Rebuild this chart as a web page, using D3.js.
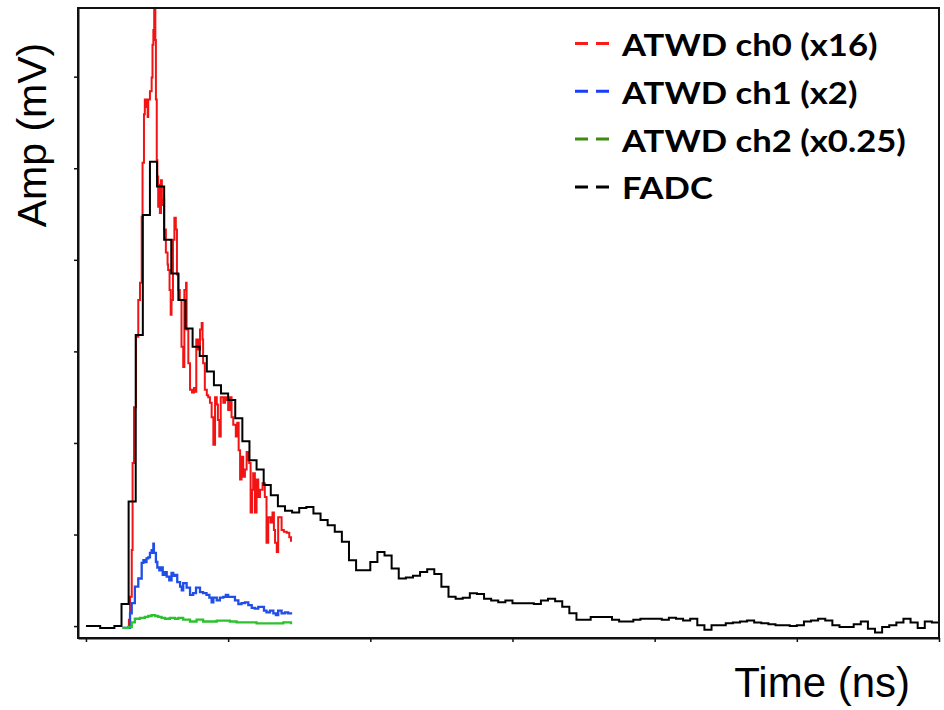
<!DOCTYPE html>
<html>
<head>
<meta charset="utf-8">
<script src="https://cdn.jsdelivr.net/npm/d3@7"></script>
<style>
  html, body { margin: 0; padding: 0; background: #fff; }
  svg { display: block; }
</style>
</head>
<body>
<svg id="chart" width="944" height="710"></svg>
<script>
// tick positions (no labels are printed on the axes)
const timeTicks = [0, 500, 1000, 1500, 2000, 2500, 3000];
const ampTicks = [0, 100, 200, 300, 400, 500, 600];

// FADC: one value per 25 ns bin, starting at t = 0
const fadcBin = 25;
const fadcAmp = [
  0, 0, -2, -2, 0, 24, 136, 318, 449, 507,
  480, 422, 385, 356, 325, 305, 295, 278, 263, 254,
  247, 227, 202, 181, 171, 154, 143, 131, 126, 124,
  129, 130, 123, 116, 110, 103, 92, 72, 61, 61,
  70, 81, 77, 63, 52, 53, 55, 59, 62, 57,
  43, 32, 30, 31, 36, 35, 30, 28, 26, 28,
  25, 25, 25, 24, 28, 30, 27, 21, 14, 7,
  7, 10, 10, 10, 7, 5, 5, 7, 8, 8,
  8, 7, 9, 8, 6, 8, 1, -4, 1, 1,
  3, 4, 5, 6, 4, 3, 2, 1, 1, 0,
  1, 5, 6, 8, 6, 1, -1, -1, 2, 5,
  -3, -7, -1, 1, 4, 8, 4, -2, 5, 4
];

// ATWD channels, [time ns, amplitude mV]
const atwdCh0 = [
  [129, -2], [147, -2], [151, 7], [155, 32], [161, 83], [164, 178], [169, 239],
  [176, 316], [184, 356], [190, 375], [196, 447], [199, 506], [204, 559], [207, 575],
  [213, 567], [217, 556], [219, 575], [225, 584], [231, 599], [234, 635], [237, 651],
  [240, 673], [244, 640], [246, 575], [249, 509], [251, 491], [254, 458], [258, 482],
  [260, 451], [264, 487], [267, 460], [272, 466], [275, 433], [281, 408], [287, 395],
  [289, 389], [294, 367], [298, 340], [301, 356], [306, 422], [311, 446], [316, 433],
  [320, 384], [325, 367], [330, 356], [336, 305], [342, 283], [346, 367], [352, 375],
  [354, 324], [360, 287], [366, 258], [373, 255], [380, 260], [383, 256], [388, 313],
  [395, 302], [401, 324], [407, 331], [410, 313], [412, 287], [418, 258], [425, 252],
  [430, 250], [436, 244], [442, 228], [448, 198], [454, 250], [460, 242], [464, 225],
  [469, 207], [474, 250], [483, 244], [489, 250], [495, 247], [500, 236], [506, 250],
  [512, 228], [518, 220], [527, 207], [532, 222], [537, 192], [542, 160], [547, 185],
  [553, 163], [559, 171], [565, 190], [570, 181], [574, 178], [579, 124], [584, 149],
  [588, 167], [594, 124], [600, 160], [606, 141], [612, 149], [621, 156], [629, 141],
  [635, 91], [641, 119], [649, 113], [656, 124], [661, 105], [665, 91], [671, 81],
  [676, 119], [682, 119], [688, 105], [696, 103], [706, 102], [715, 97], [721, 92]
];

const atwdCh1 = [
  [129, -2], [147, -2], [155, 14], [161, 25], [172, 43], [184, 52], [196, 69],
  [202, 72], [207, 70], [213, 74], [219, 75], [225, 80], [231, 83], [237, 90],
  [239, 80], [246, 70], [251, 64], [258, 61], [263, 64], [270, 56], [278, 59],
  [284, 54], [293, 50], [301, 58], [307, 55], [313, 56], [321, 48], [331, 43],
  [337, 39], [342, 47], [348, 47], [354, 42], [366, 34], [377, 36], [387, 42],
  [395, 42], [401, 37], [412, 36], [424, 34], [434, 31], [442, 26], [448, 31],
  [460, 28], [471, 31], [483, 32], [492, 34], [500, 32], [512, 32], [524, 28],
  [536, 24], [547, 25], [559, 26], [571, 23], [583, 20], [594, 19], [606, 21],
  [618, 21], [626, 17], [635, 15], [647, 17], [659, 14], [668, 12], [676, 17],
  [688, 14], [700, 15], [711, 14], [721, 15]
];

const atwdCh2 = [
  [129, -2], [149, -1], [161, 4], [172, 8], [190, 9], [207, 10], [219, 11],
  [231, 12], [243, 11], [254, 10], [266, 9], [278, 8], [295, 9], [313, 8],
  [325, 9], [342, 7], [366, 5], [389, 7], [412, 5], [436, 5], [460, 6],
  [483, 6], [506, 5], [530, 4], [565, 4], [600, 3], [635, 3], [671, 3],
  [694, 4], [721, 2]
];

const legendLabels = ["ATWD ch0 (x16)", "ATWD ch1 (x2)", "ATWD ch2 (x0.25)", "FADC"];
const legendColors = ["#ff1a1a", "#1a3cff", "#3d8a14", "#000000"];

const width = 944,
  height = 710,
  margin = { top: 8, right: 5, bottom: 72, left: 78 };

const svg = d3.select("#chart");

// d3 scales
const x = d3
  .scaleLinear()
  .domain([-28, 3000])
  .range([margin.left, width - margin.right]);

const y = d3
  .scaleLinear()
  .domain([-13, 675])
  .range([height - margin.bottom, margin.top]);

// traces
const trace = d3
  .line()
  .x((d) => x(d[0]))
  .y((d) => y(d[1]))
  .curve(d3.curveStepAfter);

const fadcPoints = fadcAmp.map((v, i) => [i * fadcBin, v]);
fadcPoints.push([fadcAmp.length * fadcBin, fadcAmp[fadcAmp.length - 1]]);

const gTraces = svg.append("g").attr("fill", "none").attr("stroke-width", 2);

gTraces.append("path").attr("d", trace(atwdCh0)).attr("stroke", "#f21414");
gTraces.append("path").attr("d", trace(atwdCh1)).attr("stroke", "#1f4fe8").attr("stroke-width", 2.3);
gTraces.append("path").attr("d", trace(atwdCh2)).attr("stroke", "#2cc22c").attr("stroke-width", 2.3);
gTraces.append("path").attr("d", trace(fadcPoints)).attr("stroke", "#000");

// frame
svg
  .append("rect")
  .attr("x", x.range()[0])
  .attr("y", y.range()[1])
  .attr("width", x.range()[1] - x.range()[0])
  .attr("height", y.range()[0] - y.range()[1])
  .attr("fill", "none")
  .attr("stroke", "#111")
  .attr("stroke-width", 2);

// Axes (ticks only)
const gX = svg
  .append("g")
  .attr("transform", "translate(0," + y.range()[0] + ")")
  .call(d3.axisBottom(x).tickValues(timeTicks).tickSize(4).tickSizeOuter(0).tickFormat(""));

const gY = svg
  .append("g")
  .attr("transform", "translate(" + x.range()[0] + ",0)")
  .call(d3.axisLeft(y).tickValues(ampTicks).tickSize(4).tickSizeOuter(0).tickFormat(""));

[gX, gY].forEach((g) => {
  g.select(".domain").attr("stroke", "#111").attr("stroke-width", 2);
  g.selectAll(".tick line").attr("stroke", "#111").attr("stroke-width", 1.5);
});

// axis titles
svg
  .append("text")
  .attr("x", 910)
  .attr("y", 697)
  .attr("text-anchor", "end")
  .style("font-family", "'Liberation Sans', Arial, sans-serif")
  .style("font-size", "42px")
  .attr("fill", "#000")
  .text("Time (ns)");

svg
  .append("text")
  .attr("transform", "translate(46,135) rotate(-90)")
  .attr("text-anchor", "middle")
  .style("font-family", "'Liberation Sans', Arial, sans-serif")
  .style("font-size", "41px")
  .attr("fill", "#000")
  .text("Amp (mV)");

// legend
const gLegend = svg.append("g").attr("transform", "translate(575,43.5)");

const rows = gLegend
  .selectAll("g")
  .data(legendLabels)
  .join("g")
  .attr("transform", (d, i) => "translate(0," + i * 47.8 + ")");

rows
  .append("line")
  .attr("x1", 0)
  .attr("x2", 34)
  .attr("stroke", (d, i) => legendColors[i])
  .attr("stroke-width", 3)
  .attr("stroke-dasharray", "13,8");

// the legend face is drawn a bit wider than Lato's natural width
rows
  .append("text")
  .attr("transform", "translate(47,12.5) scale(1.155,1.02)")
  .style("font-family", "Lato, 'Open Sans', sans-serif")
  .style("font-weight", "bold")
  .style("font-size", "30px")
  .attr("fill", "#000")
  .text((d) => d);
</script>
</body>
</html>
